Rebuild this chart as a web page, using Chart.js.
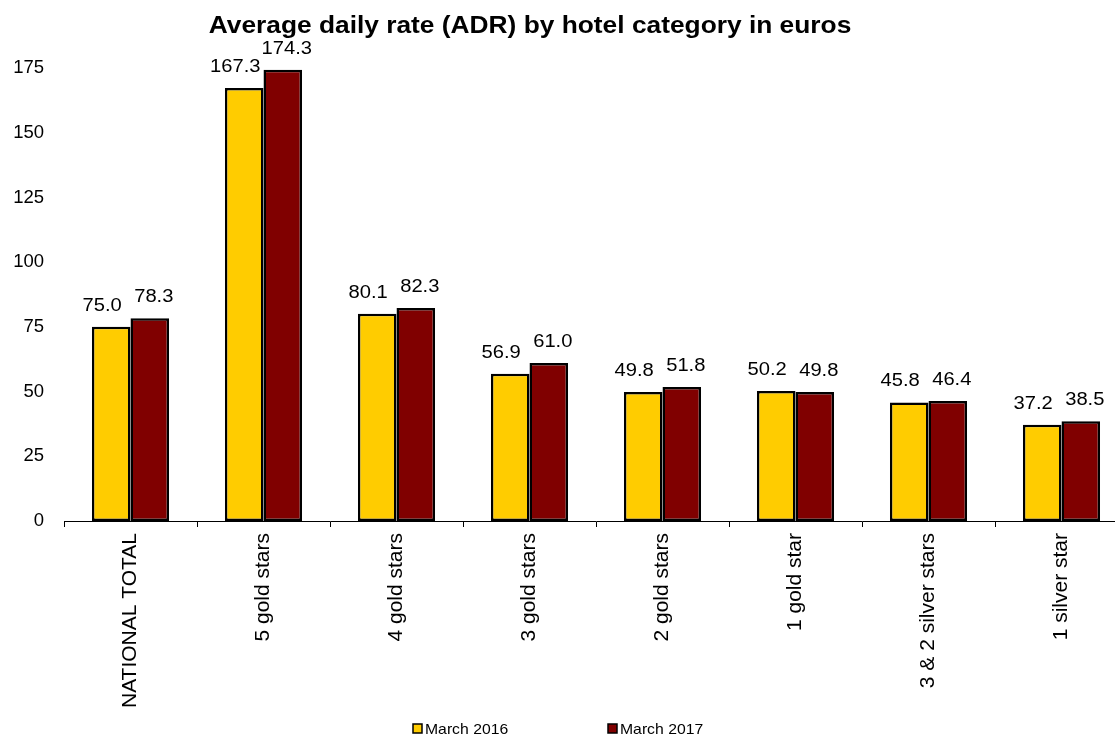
<!DOCTYPE html>
<html>
<head>
<meta charset="utf-8">
<script src="https://cdn.jsdelivr.net/npm/chart.js@4"></script>
<style>
    html, body { margin: 0; padding: 0; background: #fff; overflow: hidden; }
    #wrap { width: 1130px; height: 735px; }
</style>
</head>
<body>
<div id="wrap"><canvas id="adrChart" width="1130" height="735"></canvas></div>
<script>
// ADR by hotel category, March 2016 vs March 2017

const categories = ['NATIONAL TOTAL', '5 gold stars', '4 gold stars', '3 gold stars',
    '2 gold stars', '1 gold star', '3 & 2 silver stars', '1 silver star'];
const march2016 = [75.0, 167.3, 80.1, 56.9, 49.8, 50.2, 45.8, 37.2];
const march2017 = [78.3, 174.3, 82.3, 61.0, 51.8, 49.8, 46.4, 38.5];
const yTicks = [0, 25, 50, 75, 100, 125, 150, 175];

const titleText = 'Average daily rate (ADR) by hotel category in euros';
const FONT = 'Arial, "Liberation Sans", sans-serif';

// text drawn a little wider, like the original export
function wideText(ctx, text, x, y, sx) {
    ctx.save();
    ctx.translate(x, y);
    ctx.scale(sx, 1);
    ctx.fillText(text, 0, 0);
    ctx.restore();
}

// value labels, title and legend drawn on the canvas
const extrasPlugin = {
    id: 'extras',
    afterDatasetsDraw(chart) {
        const ctx = chart.ctx;
        ctx.save();
        ctx.fillStyle = '#000';
        ctx.font = '18px ' + FONT;
        ctx.textAlign = 'center';
        ctx.textBaseline = 'alphabetic';
        const nudge = [-9, 4]; // labels spread apart a bit so they don't collide
        chart.data.datasets.forEach((ds, i) => {
            const meta = chart.getDatasetMeta(i);
            meta.data.forEach((bar, j) => {
                wideText(ctx, ds.data[j].toFixed(1), bar.x + nudge[i], bar.y - 16, 1.12);
            });
        });

        // title
        ctx.font = 'bold 23.5px ' + FONT;
        wideText(ctx, titleText, 530, 33, 1.12);

        // legend
        ctx.font = '15px ' + FONT;
        ctx.textAlign = 'left';
        const legendX = [413, 608];
        chart.data.datasets.forEach((ds, i) => {
            const x = legendX[i];
            ctx.fillStyle = ds.backgroundColor;
            ctx.fillRect(x, 724, 9, 9);
            ctx.strokeStyle = '#000';
            ctx.lineWidth = 1.5;
            ctx.strokeRect(x, 724, 9, 9);
            ctx.fillStyle = '#000';
            wideText(ctx, ds.label, x + 12, 734, 1.05);
        });
        ctx.restore();
    }
};

new Chart(document.getElementById('adrChart'), {
    type: 'bar',
    data: {
        labels: categories,
        datasets: [
            {
                label: 'March 2016',
                data: march2016,
                backgroundColor: '#FFCC00',
                borderColor: '#000000',
                borderWidth: 2.5,
                borderSkipped: false
            },
            {
                label: 'March 2017',
                data: march2017,
                backgroundColor: '#800000',
                borderColor: '#000000',
                borderWidth: 2.5,
                borderSkipped: false
            }
        ]
    },
    options: {
        responsive: false,
        animation: false,
        layout: { padding: { top: 68, left: 0, right: 2, bottom: 0 } },
        datasets: {
            bar: { categoryPercentage: 0.58, barPercentage: 1.0 }
        },
        scales: {
            y: {
                min: 0,
                max: 175,
                afterBuildTicks: (scale) => { scale.ticks = yTicks.map(v => ({ value: v })); },
                afterFit: (scale) => { scale.width = 64; },
                grid: { display: false, drawTicks: false },
                border: { display: false },
                ticks: {
                    color: '#000',
                    padding: 20,
                    font: { family: FONT, size: 18.5 }
                }
            },
            x: {
                afterFit: (scale) => { scale.height = 214; },
                grid: {
                    drawOnChartArea: false,
                    drawTicks: true,
                    tickLength: 6,
                    color: '#000',
                    offset: true
                },
                border: { display: true, color: '#000', width: 1 },
                ticks: {
                    color: '#000',
                    minRotation: 90,
                    maxRotation: 90,
                    autoSkip: false,
                    padding: 6,
                    font: { family: FONT, size: 21 }
                }
            }
        },
        plugins: {
            legend: { display: false },
            title: { display: false },
            tooltip: { enabled: false }
        }
    },
    plugins: [extrasPlugin]
});
</script>
</body>
</html>
